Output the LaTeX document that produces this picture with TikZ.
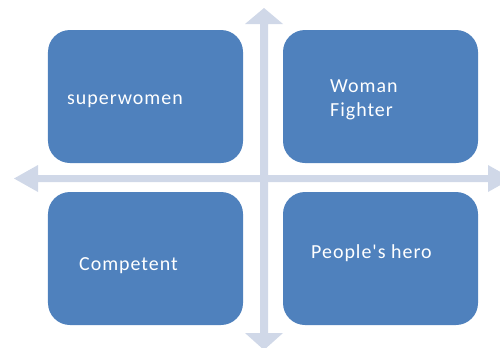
\documentclass[tikz,border=0pt]{standalone}
\usepackage{fontspec}
\setmainfont{Carlito}[Ligatures=TeXOff, LetterSpace=5]
\begin{document}
\begin{tikzpicture}[x=1bp,y=-1bp,
  quad/.style={fill=boxblue, rounded corners=22bp, minimum width=195bp, minimum height=133bp, inner sep=0pt, draw=none},
  lbl/.style={text=white, font=\fontsize{20}{24.5}\selectfont, inner sep=0pt, align=left},
  axis/.style={fill=axisgray, draw=none}]
\definecolor{boxblue}{RGB}{79,129,189}
\definecolor{axisgray}{RGB}{208,216,232}
\useasboundingbox (0,0) rectangle (500,347);
% axes
\fill[axis] (260,24) -- (245,24) -- (264,8) -- (283,24) -- (268,24) -- (268,333) -- (283,333) -- (264,350) -- (245,333) -- (260,333) -- cycle;
\fill[axis] (38,175) -- (38,165) -- (14,178.5) -- (38,192) -- (38,182) -- (488,182) -- (488,192) -- (512,178.5) -- (488,165) -- (488,175) -- cycle;
% boxes
\node[quad] (tl) at (145.5,96.5) {};
\node[quad] (tr) at (380.5,96.5) {};
\node[quad] (bl) at (145.5,258.5) {};
\node[quad] (br) at (380.5,258.5) {};
% labels
\node[lbl, anchor=west] (t1) at (67,101) {superwomen};
\node[lbl, anchor=west] (t2) at (330,100) {Woman\\Fighter};
\node[lbl, anchor=west] (t3) at (79,266) {Competent};
\node[lbl, anchor=west] (t4) at (311,253) {People's hero};
\end{tikzpicture}
\end{document}
